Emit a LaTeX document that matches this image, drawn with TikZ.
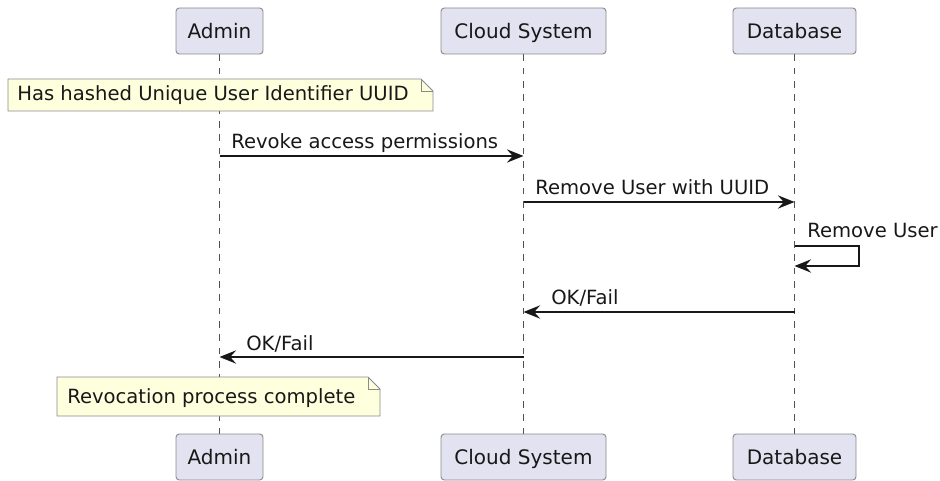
\documentclass[tikz,border=0pt]{standalone}
\usepackage{fontspec}
\setmainfont{DejaVu Sans}
\usetikzlibrary{arrows.meta}
\definecolor{partfill}{HTML}{E2E2F0}
\definecolor{notefill}{HTML}{FEFFDD}
\definecolor{ink}{HTML}{181818}
\definecolor{edge}{HTML}{8A8A8A}
\tikzset{
  participant/.style={draw=edge, fill=partfill, rounded corners=2.5, line width=0.7,
    minimum height=34.5, inner sep=0, text height=11.25pt, text depth=0pt,
    font=\fontsize{15}{17}\selectfont, text=ink},
  lifeline/.style={draw=ink!75, line width=0.6, dash pattern=on 5 off 5},
  msg/.style={draw=ink, line width=1.0, -{Stealth[length=12.5,width=10,inset=4.5]}},
  msglabel/.style={font=\fontsize{14.7}{17}\selectfont, text=ink, inner sep=0, anchor=base west},
  notebox/.style={draw=edge, fill=notefill, line width=0.7},
  notetext/.style={font=\fontsize{14.7}{17}\selectfont, text=ink, inner sep=0, anchor=base west}
}
\newcommand{\notepath}[4]{% x1, y1, x2, y2 (px)
  \path[notebox] (#1,#2) -- (#3-12,#2) -- (#3,#2+12) -- (#3,#4) -- (#1,#4) -- cycle;
  \draw[draw=edge, line width=0.7] (#3-12,#2) -- (#3-12,#2+12) -- (#3,#2+12);
}
\begin{document}
\begin{tikzpicture}[x=0.75pt, y=-0.75pt]
\useasboundingbox (0,0) rectangle (940,481);

% participants (top)
\node[participant, minimum width=65.25] (adminT) at (219.5,31) {Admin};
\node[participant, minimum width=123.75] (cloudT) at (523.5,31) {Cloud System};
\node[participant, minimum width=92.25] (dbT) at (794.5,31) {Database};
% participants (bottom)
\node[participant, minimum width=65.25] (adminB) at (219.5,457) {Admin};
\node[participant, minimum width=123.75] (cloudB) at (523.5,457) {Cloud System};
\node[participant, minimum width=92.25] (dbB) at (794.5,457) {Database};

% lifelines
\draw[lifeline] (adminT.south) -- (adminB.north);
\draw[lifeline] (cloudT.south) -- (cloudB.north);
\draw[lifeline] (dbT.south) -- (dbB.north);

% first note
\notepath{8}{79}{433}{111}
\node[notetext] (note1) at (17,101) {Has hashed Unique User Identifier UUID};

% message anchors on the lifelines
\coordinate (a1) at (219.5,156); \coordinate (c1) at (523.5,156);
\coordinate (c2) at (523.5,202); \coordinate (d2) at (794.5,202);
\coordinate (d3) at (794.5,246); \coordinate (d3r) at (859,246);
\coordinate (d3b) at (859,266); \coordinate (d3e) at (794.5,266);
\coordinate (d4) at (794.5,312); \coordinate (c4) at (523.5,312);
\coordinate (c5) at (523.5,357); \coordinate (a5) at (219.5,357);

\draw[msg] (a1) -- (c1);
\node[msglabel] (l1) at (231,149) {Revoke access permissions};
\draw[msg] (c2) -- (d2);
\node[msglabel] (l2) at (535,195) {Remove User with UUID};
\draw[msg] (d3) -- (d3r) -- (d3b) -- (d3e);
\node[msglabel] (l3) at (807,238) {Remove User};
\draw[msg] (d4) -- (c4);
\node[msglabel] (l4) at (551,305) {OK/Fail};
\draw[msg] (c5) -- (a5);
\node[msglabel] (l5) at (246,350) {OK/Fail};

% closing note
\notepath{57}{377}{380}{416}
\node[notetext] (note2) at (67,403) {Revocation process complete};
\end{tikzpicture}
\end{document}
